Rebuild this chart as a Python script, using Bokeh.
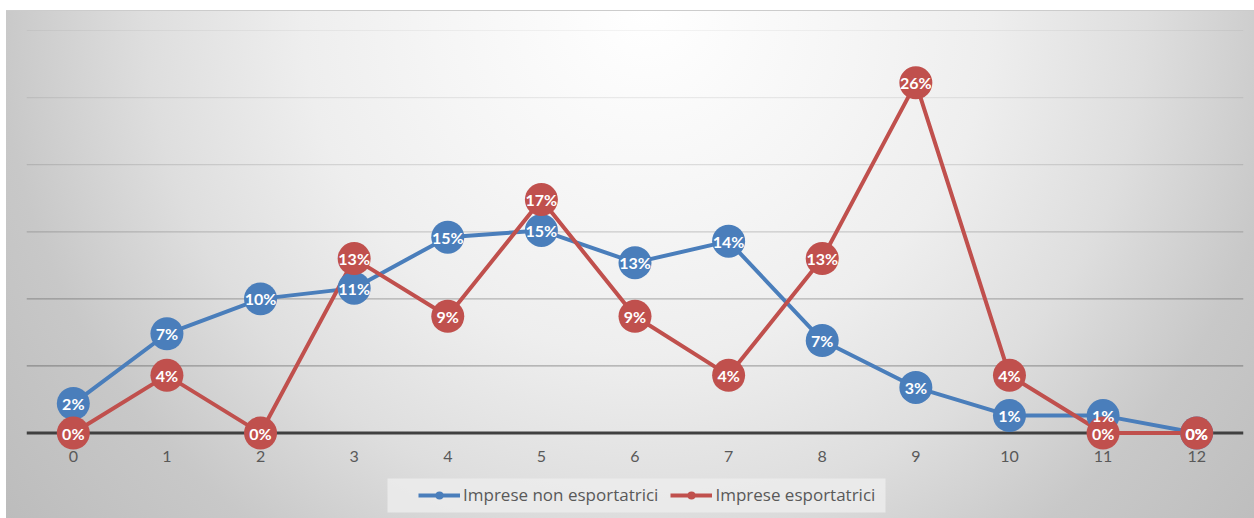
from bokeh.plotting import figure
from bokeh.layouts import column
from bokeh.models import (Range1d, FixedTicker, Span, Legend, LegendItem,
                          ColumnDataSource, BoxAnnotation)
from bokeh.core.properties import value
from bokeh.embed import file_html
from bokeh.resources import INLINE

# Share of firms per class (percent)
classi = list(range(13))
tick_labels = [str(c) for c in classi]
non_esportatrici = [2.2, 7.4, 10.0, 10.8, 14.6, 15.1, 12.7, 14.3, 6.9, 3.4, 1.3, 1.3, 0.0]
esportatrici = [0.0, 4.3, 0.0, 13.0, 8.7, 17.4, 8.7, 4.3, 13.0, 26.1, 4.3, 0.0, 0.0]
series_names = ["Imprese non esportatrici", "Imprese esportatrici"]
grid_levels = [5, 10, 15, 20, 25, 30]

BLUE = "#4a7ebb"
RED = "#c0504d"
TEXT_GREY = "#595959"
FONT = "Lato"

# gridlines get darker towards the baseline
grid_alpha = [0.30, 0.25, 0.17, 0.11, 0.07, 0.09]

W = 1254
H_CHART = 472
H_LEGEND = 46
BORDER_L, BORDER_R = 26, 11

p = figure(width=W, height=H_CHART,
           x_range=Range1d(-0.5, 12.5), y_range=Range1d(-1.3, 30),
           output_backend="svg", toolbar_location=None,
           min_border_left=BORDER_L, min_border_right=BORDER_R,
           min_border_top=30, min_border_bottom=22)
p.background_fill_alpha = 0
p.border_fill_alpha = 0
p.outline_line_color = None
p.grid.visible = False
p.yaxis.visible = False

for lvl, a in zip(grid_levels, grid_alpha):
    p.add_layout(Span(location=lvl, dimension="width", line_color="#000000",
                      line_alpha=a, line_width=1.2, level="underlay"))
p.add_layout(Span(location=0, dimension="width", line_color="#404040",
                  line_width=3, level="underlay"))

xa = p.xaxis[0]
xa.ticker = FixedTicker(ticks=classi)
xa.major_label_overrides = {c: t for c, t in zip(classi, tick_labels)}
xa.axis_line_color = None
xa.major_tick_line_color = None
xa.minor_tick_line_color = None
xa.major_tick_out = 0
xa.major_tick_in = 0
xa.major_label_standoff = 0
xa.major_label_text_font = FONT
xa.major_label_text_font_size = "16px"
xa.major_label_text_color = TEXT_GREY

src_b = ColumnDataSource(dict(x=classi, y=non_esportatrici,
                              lab=[f"{round(v)}%" for v in non_esportatrici]))
src_r = ColumnDataSource(dict(x=classi, y=esportatrici,
                              lab=[f"{round(v)}%" for v in esportatrici]))

p.line("x", "y", source=src_b, line_color=BLUE, line_width=4)
p.line("x", "y", source=src_r, line_color=RED, line_width=4)
p.scatter("x", "y", source=src_b, size=33, fill_color=BLUE, line_color=None)
p.scatter("x", "y", source=src_r, size=33, fill_color=RED, line_color=None)

for src in (src_b, src_r):
    p.text("x", "y", text="lab", source=src, text_color="#ffffff",
           text_font=value(FONT), text_font_style="bold", text_font_size="16px",
           text_align="center", text_baseline="middle")

# legend strip under the chart; its frame uses page pixels as data units
q = figure(width=W, height=H_LEGEND,
           x_range=Range1d(BORDER_L, W - BORDER_R), y_range=Range1d(0, H_LEGEND),
           output_backend="svg", toolbar_location=None,
           min_border_left=BORDER_L, min_border_right=BORDER_R,
           min_border_top=0, min_border_bottom=0)
q.background_fill_alpha = 0
q.border_fill_alpha = 0
q.outline_line_color = None
q.grid.visible = False
q.axis.visible = False
q.extra_y_ranges = {"proxy": Range1d(1000, 1001)}

q.add_layout(BoxAnnotation(left=387, right=885, bottom=6, top=40,
                           fill_color="#ececec", fill_alpha=0.85, line_color=None,
                           level="underlay"))

items = []
for name, vals, color in zip(series_names, (non_esportatrici, esportatrici), (BLUE, RED)):
    ln = q.line(classi, vals, line_color=color, line_width=4, y_range_name="proxy")
    mk = q.scatter(classi, vals, size=33, fill_color=color, line_color=None,
                   y_range_name="proxy")
    items.append(LegendItem(label=name, renderers=[ln, mk]))

legend = Legend(items=items, orientation="horizontal", location=(392, 12),
                padding=7, margin=0, spacing=12, glyph_width=42, glyph_height=20,
                label_standoff=3, background_fill_alpha=0, border_line_color=None,
                label_text_font="Open Sans", label_text_font_size="17px",
                label_text_color=TEXT_GREY)
q.add_layout(legend)

layout = column(p, q, spacing=0)
# soft radial background of the whole chart panel
layout.styles = {
    "background-color": "#ffffff",
    "background-image": (
        "linear-gradient(#cccccc, #cccccc), "
        "radial-gradient(circle 820px at 640px 0px, #ffffff 0%, #f5f5f5 26%, "
        "#eeeeee 42%, #dedede 61%, #c8c8c8 79%, #bcbcbc 100%)"
    ),
    "background-repeat": "no-repeat, no-repeat",
    "background-position": "6px 10px, 6px 10px",
    "background-size": "1248px 1px, 1248px 508px",
}

open("out.html", "w").write(file_html(layout, INLINE))
